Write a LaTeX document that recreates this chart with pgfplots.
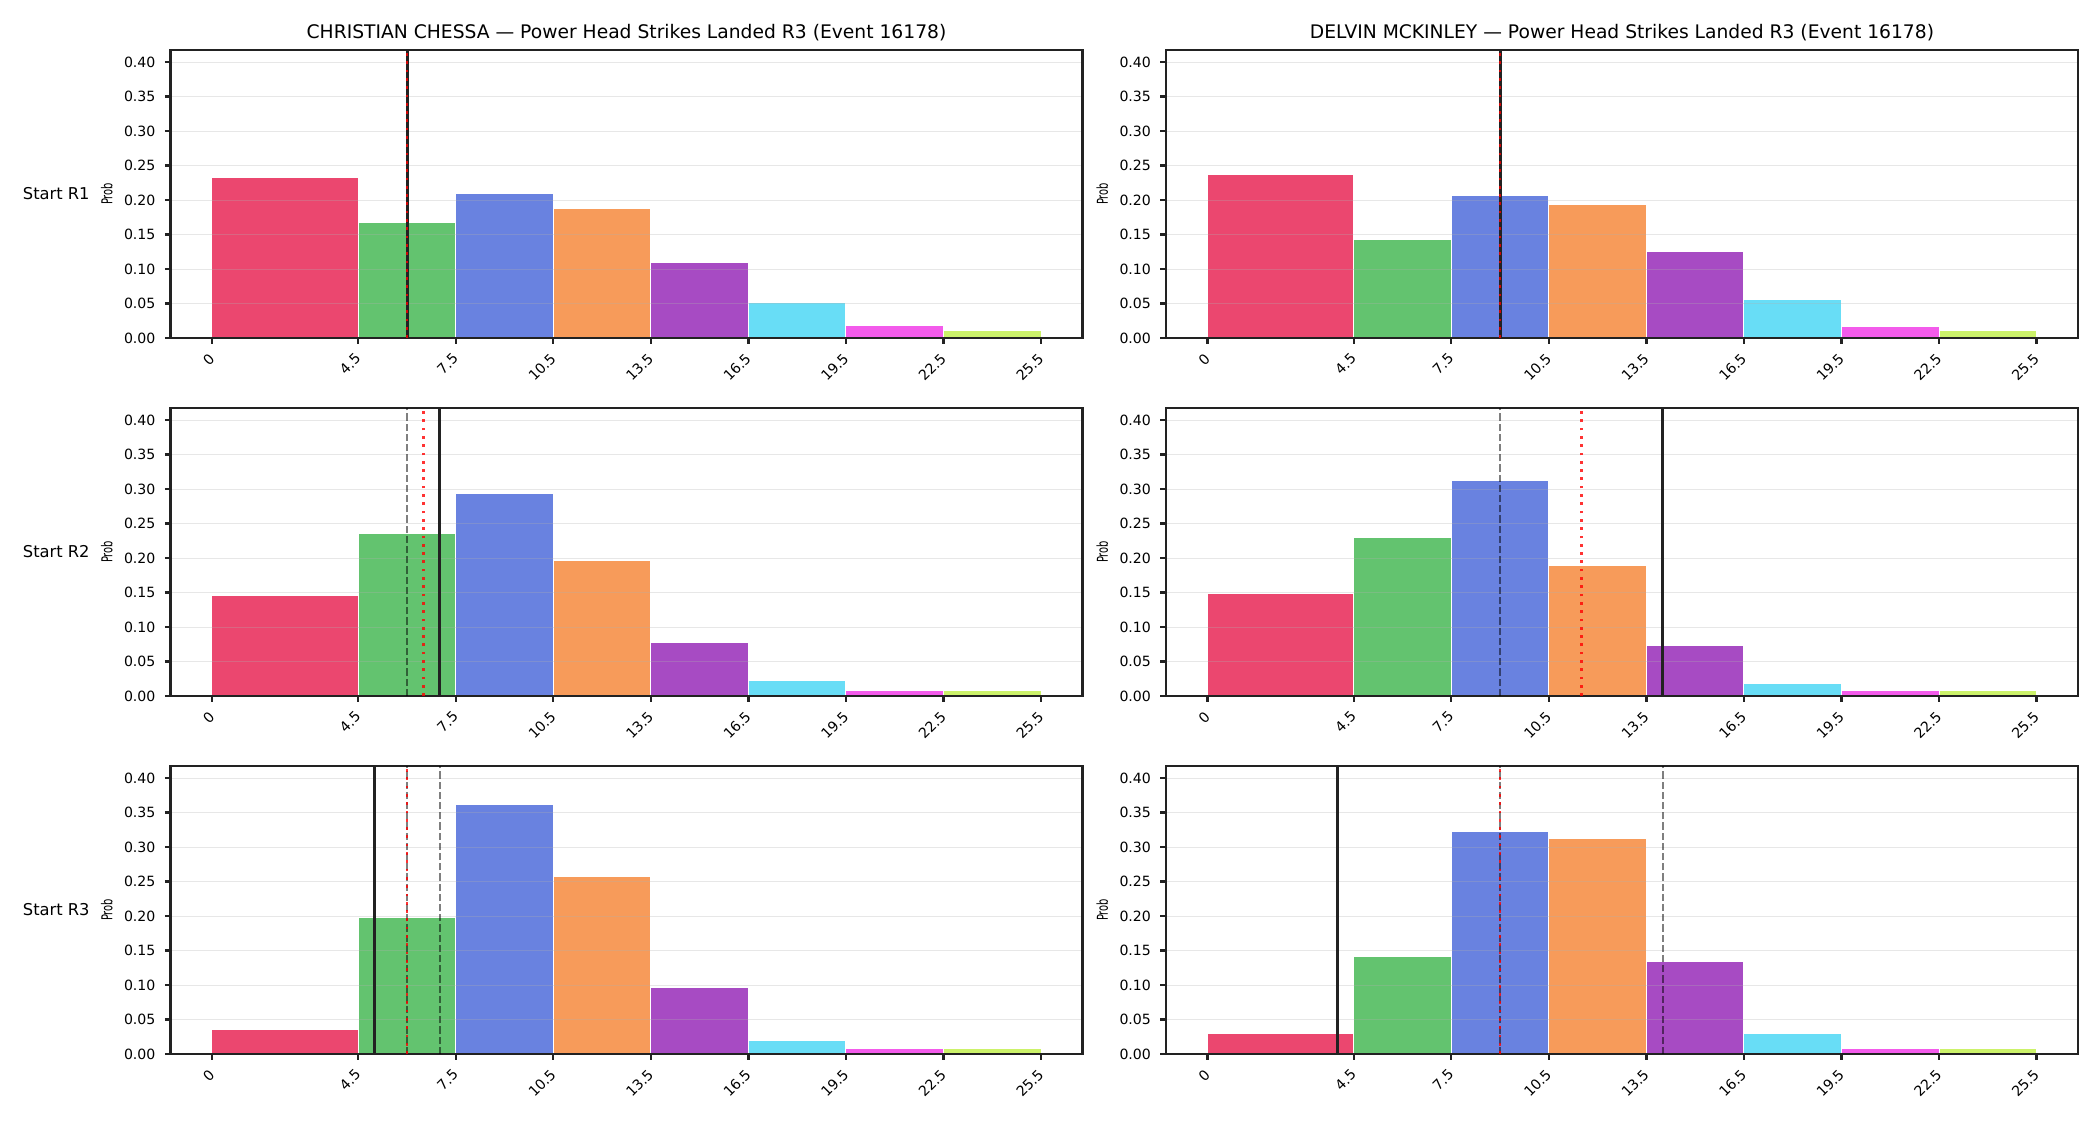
\documentclass[border=0pt]{standalone}
\usepackage{fontspec}
\setmainfont{DejaVu Sans}
\usepackage{graphicx}
\usepackage{pgfplots}
\pgfplotsset{compat=1.18}

% bin colours (alpha 0.8 over white, pre-blended)
\definecolor{c1}{RGB}{235,71,111}
\definecolor{c2}{RGB}{99,195,111}
\definecolor{c3}{RGB}{105,130,224}
\definecolor{c4}{RGB}{247,155,90}
\definecolor{c5}{RGB}{167,75,195}
\definecolor{c6}{RGB}{104,221,246}
\definecolor{c7}{RGB}{243,91,235}
\definecolor{c8}{RGB}{204,242,106}
\definecolor{spine}{RGB}{34,34,34}
\definecolor{gridc}{RGB}{176,176,176}

\pgfplotsset{
  hist/.style={
    set layers, clip=false,
    scale only axis, width=456pt, height=144pt,
    xmin=-1.275, xmax=26.775, ymin=0, ymax=0.4175,
    axis line style={spine, line width=1.1pt},
    tick style={spine, line width=1.1pt},
    tick align=outside, major tick length=2.85pt,
    xtick pos=bottom, ytick pos=left,
    xtick={0,4.5,7.5,10.5,13.5,16.5,19.5,22.5,25.5},
    xticklabels={0,4.5,7.5,10.5,13.5,16.5,19.5,22.5,25.5},
    ytick={0,0.05,0.1,0.15,0.2,0.25,0.3,0.35,0.4},
    yticklabels={0.00,0.05,0.10,0.15,0.20,0.25,0.30,0.35,0.40},
    /pgf/number format/assume math mode=true,
    ticklabel style={font=\fontsize{7.05}{8.5}\selectfont},
    yticklabel style={inner sep=0pt, xshift=-4.5pt},
    xticklabel style={inner sep=0pt, anchor=north east, xshift=-2pt, yshift=-4pt, rotate=45},
    ymajorgrids, grid style={gridc, opacity=0.3, line width=0.5pt},
    ylabel={\scalebox{0.66}[1]{Prob}},
    every axis y label/.style={at={(rel axis cs:0,0.5)}, xshift=-28.75pt, rotate=90, anchor=south, inner sep=0pt, font=\fontsize{7.5}{9}\selectfont},
  },
  bin/.style={ybar interval, draw=white, line width=0.5pt, on layer=axis background},
}

% one bar per bin: [0,4.5], [4.5,7.5], ..., [22.5,25.5]
\newcommand{\histbars}[8]{%
  \addplot[bin, fill=c1] coordinates {(0,#1) (4.5,#1)};
  \addplot[bin, fill=c2] coordinates {(4.5,#2) (7.5,#2)};
  \addplot[bin, fill=c3] coordinates {(7.5,#3) (10.5,#3)};
  \addplot[bin, fill=c4] coordinates {(10.5,#4) (13.5,#4)};
  \addplot[bin, fill=c5] coordinates {(13.5,#5) (16.5,#5)};
  \addplot[bin, fill=c6] coordinates {(16.5,#6) (19.5,#6)};
  \addplot[bin, fill=c7] coordinates {(19.5,#7) (22.5,#7)};
  \addplot[bin, fill=c8] coordinates {(22.5,#8) (25.5,#8)};
}
% earlier rounds (grey dashed), this round (solid), running mean (red dotted)
\newcommand{\vprev}[1]{\addplot[black, draw opacity=0.5, line width=1pt, dash pattern=on 3.6pt off 1.5pt] coordinates {(#1,0) (#1,0.4175)};}
\newcommand{\vcur}[1]{\addplot[spine, line width=1.5pt] coordinates {(#1,0) (#1,0.4175)};}
\newcommand{\vmean}[1]{\addplot[red, draw opacity=0.8, line width=1.35pt, dash pattern=on 1.35pt off 2.8pt] coordinates {(#1,0) (#1,0.4175)};}
\newcommand{\rowlabel}[1]{\node[anchor=east, inner sep=0pt, xshift=-40.25pt, font=\fontsize{8.15}{10}\selectfont] at (rel axis cs:0,0.5) {#1};}
\newcommand{\paneltitle}[1]{\node[anchor=base, inner sep=0pt, yshift=5.85pt, font=\fontsize{9.35}{11}\selectfont] at (rel axis cs:0.5,1) {#1};}

\begin{document}
\begin{tikzpicture}

% ---- CHRISTIAN CHESSA ----
\begin{axis}[hist, at={(85.25pt,393.5pt)}, anchor=south west]
  \histbars{0.232}{0.168}{0.210}{0.188}{0.110}{0.052}{0.018}{0.011}
  \vcur{6}
  \vmean{6}
  \rowlabel{Start R1}
  \paneltitle{CHRISTIAN CHESSA — Power Head Strikes Landed R3 (Event 16178)}
\end{axis}

\begin{axis}[hist, at={(85.25pt,214.5pt)}, anchor=south west]
  \histbars{0.145}{0.236}{0.293}{0.196}{0.078}{0.023}{0.008}{0.008}
  \vprev{6}
  \vcur{7}
  \vmean{6.5}
  \rowlabel{Start R2}
\end{axis}

\begin{axis}[hist, at={(85.25pt,35.5pt)}, anchor=south west]
  \histbars{0.036}{0.198}{0.362}{0.257}{0.096}{0.020}{0.008}{0.008}
  \vprev{6}
  \vprev{7}
  \vcur{5}
  \vmean{6}
  \rowlabel{Start R3}
\end{axis}

% ---- DELVIN MCKINLEY ----
\begin{axis}[hist, at={(583pt,393.5pt)}, anchor=south west]
  \histbars{0.237}{0.143}{0.206}{0.193}{0.126}{0.056}{0.017}{0.011}
  \vcur{9}
  \vmean{9}
  \paneltitle{DELVIN MCKINLEY — Power Head Strikes Landed R3 (Event 16178)}
\end{axis}

\begin{axis}[hist, at={(583pt,214.5pt)}, anchor=south west]
  \histbars{0.149}{0.230}{0.313}{0.189}{0.073}{0.018}{0.008}{0.008}
  \vprev{9}
  \vcur{14}
  \vmean{11.5}
\end{axis}

\begin{axis}[hist, at={(583pt,35.5pt)}, anchor=south west]
  \histbars{0.029}{0.142}{0.323}{0.313}{0.134}{0.030}{0.008}{0.008}
  \vprev{9}
  \vprev{14}
  \vcur{4}
  \vmean{9}
\end{axis}

% page = full figure area
\pgfresetboundingbox
\path[use as bounding box] (0,0) rectangle (1050pt,562.5pt);
\end{tikzpicture}
\end{document}
